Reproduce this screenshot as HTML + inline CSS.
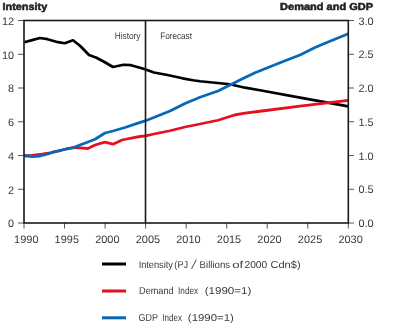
<!DOCTYPE html>
<html><head><meta charset="utf-8"><style>
html,body{margin:0;padding:0;background:#fff;}
svg{display:block;will-change:transform;}
text{font-family:"Liberation Sans",sans-serif;text-rendering:geometricPrecision;}
.ax{font-size:10.9px;fill:#3a3a3a;}
.tk{stroke:#555;stroke-width:1;}
.ttl{font-size:10.1px;font-weight:bold;fill:#231f20;stroke:#231f20;stroke-width:0.55px;}
.lg{font-size:10px;fill:#3a3a3a;}
.lg2{font-size:9.4px;fill:#3a3a3a;}
</style></head><body>
<svg width="400" height="331" viewBox="0 0 400 331">
<text x="2.6" y="9.9" class="ttl" textLength="44.6" lengthAdjust="spacingAndGlyphs">Intensity</text>
<text x="373.1" y="9.9" class="ttl" text-anchor="end" textLength="93" lengthAdjust="spacingAndGlyphs">Demand and GDP</text>
<line x1="18" y1="223.00" x2="24" y2="223.00" class="tk"/>
<text x="14.1" y="227.30" text-anchor="end" class="ax">0</text>
<line x1="18" y1="189.25" x2="24" y2="189.25" class="tk"/>
<text x="14.1" y="193.55" text-anchor="end" class="ax">2</text>
<line x1="18" y1="155.50" x2="24" y2="155.50" class="tk"/>
<text x="14.1" y="159.80" text-anchor="end" class="ax">4</text>
<line x1="18" y1="121.75" x2="24" y2="121.75" class="tk"/>
<text x="14.1" y="126.05" text-anchor="end" class="ax">6</text>
<line x1="18" y1="88.00" x2="24" y2="88.00" class="tk"/>
<text x="14.1" y="92.30" text-anchor="end" class="ax">8</text>
<line x1="18" y1="54.25" x2="24" y2="54.25" class="tk"/>
<text x="14.1" y="58.55" text-anchor="end" class="ax">10</text>
<line x1="18" y1="20.50" x2="24" y2="20.50" class="tk"/>
<text x="14.1" y="24.80" text-anchor="end" class="ax">12</text>
<line x1="348.3" y1="223.00" x2="354" y2="223.00" class="tk"/>
<text x="358.4" y="227.20" class="ax" textLength="15.2" lengthAdjust="spacingAndGlyphs">0.0</text>
<line x1="348.3" y1="189.25" x2="354" y2="189.25" class="tk"/>
<text x="358.4" y="193.45" class="ax" textLength="15.2" lengthAdjust="spacingAndGlyphs">0.5</text>
<line x1="348.3" y1="155.50" x2="354" y2="155.50" class="tk"/>
<text x="358.4" y="159.70" class="ax" textLength="15.2" lengthAdjust="spacingAndGlyphs">1.0</text>
<line x1="348.3" y1="121.75" x2="354" y2="121.75" class="tk"/>
<text x="358.4" y="125.95" class="ax" textLength="15.2" lengthAdjust="spacingAndGlyphs">1.5</text>
<line x1="348.3" y1="88.00" x2="354" y2="88.00" class="tk"/>
<text x="358.4" y="92.20" class="ax" textLength="15.2" lengthAdjust="spacingAndGlyphs">2.0</text>
<line x1="348.3" y1="54.25" x2="354" y2="54.25" class="tk"/>
<text x="358.4" y="58.45" class="ax" textLength="15.2" lengthAdjust="spacingAndGlyphs">2.5</text>
<line x1="348.3" y1="20.50" x2="354" y2="20.50" class="tk"/>
<text x="358.4" y="24.70" class="ax" textLength="15.2" lengthAdjust="spacingAndGlyphs">3.0</text>
<line x1="24.00" y1="223" x2="24.00" y2="228.5" class="tk"/>
<text x="14.10" y="242.9" class="ax" textLength="24.4" lengthAdjust="spacingAndGlyphs">1990</text>
<line x1="64.54" y1="223" x2="64.54" y2="228.5" class="tk"/>
<text x="54.64" y="242.9" class="ax" textLength="24.4" lengthAdjust="spacingAndGlyphs">1995</text>
<line x1="105.08" y1="223" x2="105.08" y2="228.5" class="tk"/>
<text x="95.17" y="242.9" class="ax" textLength="24.4" lengthAdjust="spacingAndGlyphs">2000</text>
<line x1="145.61" y1="223" x2="145.61" y2="228.5" class="tk"/>
<text x="135.71" y="242.9" class="ax" textLength="24.4" lengthAdjust="spacingAndGlyphs">2005</text>
<line x1="186.15" y1="223" x2="186.15" y2="228.5" class="tk"/>
<text x="176.25" y="242.9" class="ax" textLength="24.4" lengthAdjust="spacingAndGlyphs">2010</text>
<line x1="226.69" y1="223" x2="226.69" y2="228.5" class="tk"/>
<text x="216.79" y="242.9" class="ax" textLength="24.4" lengthAdjust="spacingAndGlyphs">2015</text>
<line x1="267.23" y1="223" x2="267.23" y2="228.5" class="tk"/>
<text x="257.33" y="242.9" class="ax" textLength="24.4" lengthAdjust="spacingAndGlyphs">2020</text>
<line x1="307.76" y1="223" x2="307.76" y2="228.5" class="tk"/>
<text x="297.86" y="242.9" class="ax" textLength="24.4" lengthAdjust="spacingAndGlyphs">2025</text>
<line x1="348.30" y1="223" x2="348.30" y2="228.5" class="tk"/>
<text x="338.40" y="242.9" class="ax" textLength="24.4" lengthAdjust="spacingAndGlyphs">2030</text>
<polyline points="24.25,42.2 32,40.1 40,38 47.5,39.2 58,42.2 64.75,43.25 73,40.25 80,45.7 89,55 96.5,57.7 104,61.75 113,67 123.5,64.75 131,65.2 140,67.75 145,69.3 154,72.5 167.5,75 182.5,78.3 193,80.25 200,81.25 215,82.75 230,84.25 245,87.7 260,90.25 300,97.6 348.3,106.3" fill="none" stroke="#000" stroke-width="2.7" stroke-linejoin="round"/>
<polyline points="24,155.8 32,155.5 42,154.2 50,152.8 58,151.2 66,149 73,147.5 80,147.8 88,148.5 95,145 105,142.2 113,144.2 122,140 135,137.4 140,136.5 145.7,135.8 155,133.75 170,130.75 185,127 200,124 218,120.25 234.5,115 245,113.2 260,111.25 300,106.2 348.3,100.4" fill="none" stroke="#e8101e" stroke-width="2.8" stroke-linejoin="round"/>
<polyline points="24,155.5 32,156.5 40,156 48,154 54,151.8 62,150 66,149 73,147.8 80,145 88,142 95,139.2 105,133 113,131 125,127.5 135,124.2 145.7,120.7 162.5,114 170,111 185,103.5 200,97.3 218,91 230,85 243.5,78.25 255,72.7 270,66.7 285,60.7 300,55 314.5,47.8 325,43.3 348.3,33.7" fill="none" stroke="#0868b8" stroke-width="2.8" stroke-linejoin="round"/>
<rect x="24" y="20.5" width="324.30" height="202.50" fill="none" stroke="#1a1a1a" stroke-width="1.6"/>
<line x1="145.5" y1="20.5" x2="145.5" y2="223" stroke="#1a1a1a" stroke-width="1.6"/>
<text x="114.7" y="38.9" class="lg2" textLength="25.8" lengthAdjust="spacingAndGlyphs">History</text>
<text x="160.2" y="38.9" class="lg2" textLength="31.8" lengthAdjust="spacingAndGlyphs">Forecast</text>
<line x1="102" y1="264" x2="126" y2="264" stroke="#000" stroke-width="3"/>
<line x1="102" y1="291" x2="126" y2="291" stroke="#e8101e" stroke-width="3"/>
<line x1="102" y1="317.8" x2="126" y2="317.8" stroke="#0868b8" stroke-width="3"/>
<text x="138.65" y="267.8" class="lg" textLength="34.20" lengthAdjust="spacingAndGlyphs">Intensity</text>
<text x="174.35" y="267.8" class="lg" textLength="13.70" lengthAdjust="spacingAndGlyphs">(PJ</text>
<line x1="191.5" y1="268.9" x2="196.3" y2="259.7" stroke="#3a3a3a" stroke-width="0.95"/>
<text x="199.55" y="267.8" class="lg" textLength="30.60" lengthAdjust="spacingAndGlyphs">Billions</text>
<text x="232.15" y="267.8" class="lg" textLength="11.00" lengthAdjust="spacingAndGlyphs">of</text>
<text x="244.45" y="267.8" class="lg" textLength="22.80" lengthAdjust="spacingAndGlyphs">2000</text>
<text x="270.45" y="267.8" class="lg" textLength="30.20" lengthAdjust="spacingAndGlyphs">Cdn&#36;)</text>
<text x="139.05" y="293.7" class="lg" textLength="34.60" lengthAdjust="spacingAndGlyphs">Demand</text>
<text x="178.05" y="293.7" class="lg" textLength="20.10" lengthAdjust="spacingAndGlyphs">Index</text>
<text x="204.65" y="293.7" class="lg" textLength="46.70" lengthAdjust="spacingAndGlyphs">(1990=1)</text>
<text x="138.55" y="320.7" class="lg" textLength="19.30" lengthAdjust="spacingAndGlyphs">GDP</text>
<text x="162.35" y="320.7" class="lg" textLength="19.60" lengthAdjust="spacingAndGlyphs">Index</text>
<text x="187.85" y="320.7" class="lg" textLength="46.00" lengthAdjust="spacingAndGlyphs">(1990=1)</text>
</svg>
</body></html>
